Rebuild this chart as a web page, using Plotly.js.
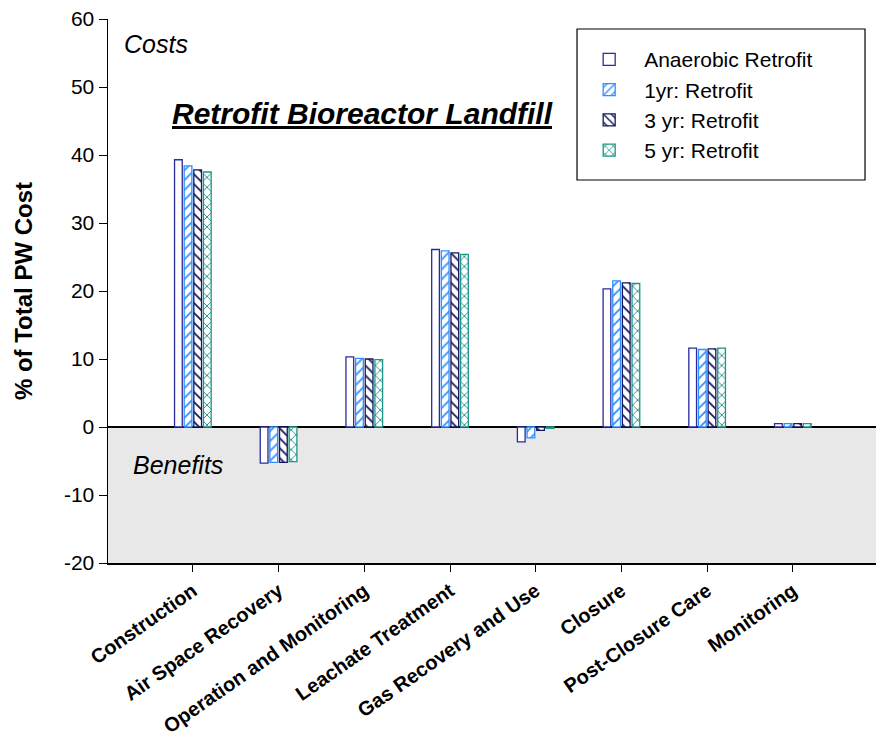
<!DOCTYPE html>
<html>
<head>
<meta charset="utf-8">
<script src="https://cdn.plot.ly/plotly-3.0.1.min.js"></script>
<style>html,body{margin:0;padding:0;background:#fff;}#chart{width:877px;height:740px;}</style>
</head>
<body>
<div id="chart"></div>
<script>
const categories = ["Construction", "Air Space Recovery", "Operation and Monitoring", "Leachate Treatment", "Gas Recovery and Use", "Closure", "Post-Closure Care", "Monitoring"];
const anaerobic = [39.3, -5.3, 10.3, 26.1, -2.2, 20.3, 11.6, 0.5];
const yr1 = [38.4, -5.2, 10.1, 25.9, -1.6, 21.5, 11.4, 0.5];
const yr3 = [37.8, -5.2, 10.0, 25.6, -0.5, 21.2, 11.5, 0.5];
const yr5 = [37.5, -5.1, 9.9, 25.4, -0.2, 21.1, 11.6, 0.5];
const seriesNames = ["Anaerobic Retrofit", "1yr: Retrofit", "3 yr: Retrofit", "5 yr: Retrofit"];
const yTickVals = [-20, -10, 0, 10, 20, 30, 40, 50, 60];
const yTickText = ["-20", "-10", "0", "10", "20", "30", "40", "50", "60"];

const FONT = "Arial, Liberation Sans, sans-serif";
const styles = [
  {line: "#2b2b9c", fg: "#2b2b9c", shape: ""},
  {line: "#2f8fff", fg: "#2f8fff", shape: "/"},
  {line: "#16165e", fg: "#16165e", shape: "\\"},
  {line: "#1f9488", fg: "#1f9488", shape: "x"}
];
const data = [anaerobic, yr1, yr3, yr5].map((vals, i) => ({
  type: "bar",
  name: seriesNames[i],
  x: categories,
  y: vals,
  marker: {
    color: "white",
    line: {color: styles[i].line, width: 1.3},
    pattern: {shape: styles[i].shape, fgcolor: styles[i].fg, bgcolor: "white", size: 7, solidity: 0.25, fillmode: "replace"}
  },
  hoverinfo: "x+y+name"
}));

const layout = {
  width: 877, height: 740,
  margin: {l: 108, r: 1, t: 19, b: 177},
  paper_bgcolor: "white", plot_bgcolor: "white",
  font: {family: FONT, color: "black"},
  barmode: "group", bargap: 0.55, bargroupgap: 0.2,
  showlegend: true,
  legend: {
    x: 0.607, y: 0.963, xanchor: "left", yanchor: "top",
    bgcolor: "rgba(0,0,0,0)", borderwidth: 0,
    font: {size: 21, family: FONT},
    tracegroupgap: 0, itemwidth: 60
  },
  xaxis: {
    type: "category", range: [-0.99, 7.97],
    showline: true, linecolor: "black", linewidth: 1.5,
    ticks: "outside", ticklen: 7, tickcolor: "black",
    tickangle: -35, showgrid: false, zeroline: false,
    tickfont: {size: 20, family: FONT, weight: "bold"}
  },
  yaxis: {
    range: [-20, 60], tickvals: yTickVals, ticktext: yTickText,
    showline: true, linecolor: "black", linewidth: 1.5,
    ticks: "outside", ticklen: 8, tickcolor: "black",
    showgrid: false, zeroline: true, zerolinecolor: "black", zerolinewidth: 2,
    tickfont: {size: 21},
    title: {text: "<b>% of Total PW Cost</b>", font: {size: 24}, standoff: 24}
  },
  shapes: [
    {type: "rect", xref: "paper", yref: "y", x0: 0, x1: 1, y0: -20, y1: 0,
     fillcolor: "#e8e8e8", line: {width: 0}, layer: "below"},
    {type: "rect", xref: "paper", yref: "paper", x0: 0.6107, x1: 0.9857, y0: 0.704, y1: 0.9816,
     fillcolor: "rgba(0,0,0,0)", line: {color: "black", width: 1.2}, layer: "above"}
  ],
  annotations: [
    {text: "<b><i><u>Retrofit Bioreactor Landfill</u></i></b>", xref: "paper", yref: "paper",
     x: 0.331, y: 0.827, xanchor: "center", yanchor: "middle", showarrow: false,
     font: {size: 30}},
    {text: "<i>Costs</i>", xref: "paper", yref: "paper", x: 0.018, y: 0.954,
     xanchor: "left", yanchor: "middle", showarrow: false, font: {size: 25}},
    {text: "<i>Benefits</i>", xref: "paper", yref: "paper", x: 0.030, y: 0.180,
     xanchor: "left", yanchor: "middle", showarrow: false, font: {size: 25}}
  ]
};
Plotly.newPlot("chart", data, layout, {displayModeBar: false, staticPlot: true});
</script>
</body>
</html>
